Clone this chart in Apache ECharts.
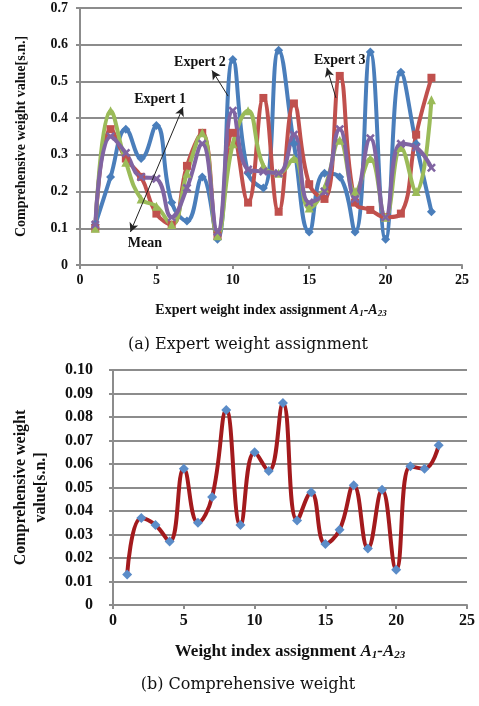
<!DOCTYPE html>
<html><head><meta charset="utf-8">
<script src="https://cdn.jsdelivr.net/npm/echarts@6/dist/echarts.min.js"></script>
<style>html,body{margin:0;padding:0;background:#fff}#c{width:479px;height:706px}</style>
</head><body><div id="c"></div>
<script>
var indexA = [1,2,3,4,5,6,7,8,9,10,11,12,13,14,15,16,17,18,19,20,21,22,23];
var expert2 = [0.11,0.24,0.37,0.29,0.38,0.17,0.12,0.24,0.07,0.56,0.25,0.21,0.585,0.33,0.09,0.25,0.24,0.09,0.58,0.07,0.525,0.33,0.145];
var expert3 = [0.10,0.37,0.29,0.24,0.14,0.11,0.27,0.36,0.08,0.36,0.17,0.455,0.145,0.44,0.22,0.18,0.515,0.17,0.15,0.13,0.14,0.355,0.51];
var expert1 = [0.10,0.42,0.28,0.18,0.16,0.11,0.25,0.36,0.08,0.33,0.42,0.27,0.25,0.29,0.155,0.21,0.34,0.20,0.29,0.13,0.32,0.20,0.45];
var meanW   = [0.11,0.35,0.305,0.24,0.235,0.13,0.21,0.33,0.09,0.42,0.26,0.255,0.25,0.355,0.17,0.20,0.37,0.18,0.345,0.13,0.33,0.32,0.265];
var compW   = [0.013,0.037,0.034,0.027,0.058,0.035,0.046,0.083,0.034,0.065,0.057,0.086,0.036,0.048,0.026,0.032,0.051,0.024,0.049,0.015,0.059,0.058,0.068];
var topYTicks = ['0','0.1','0.2','0.3','0.4','0.5','0.6','0.7'];
var botYTicks = ['0','0.01','0.02','0.03','0.04','0.05','0.06','0.07','0.08','0.09','0.10'];

function pairs(v){ return indexA.map(function(x,i){ return [x, v[i]]; }); }
var serif = 'Liberation Serif';
var xShape = 'path://M2,0L5,3L8,0L10,2L7,5L10,8L8,10L5,7L2,10L0,8L3,5L0,2Z';
var gridLine = {show:true, lineStyle:{color:'#8c8c8c', width:2}};
var axisLine = {show:true, lineStyle:{color:'#8c8c8c', width:2}};
var ticks = {show:true, length:4, lineStyle:{color:'#8c8c8c', width:2}};

function lineSeries(name, data, color, symbol, size){
  return {name:name, type:'line', xAxisIndex:0, yAxisIndex:0, data:pairs(data), smooth:0.45,
    symbol:symbol, symbolSize:size, showSymbol:true,
    lineStyle:{color:color, width:4}, itemStyle:{color:color}, z:2, animation:false};
}
function annot(text, x, y){
  return {coord:[x,y], symbol:'rect', symbolSize:0,
    label:{show:true, position:'inside', formatter:text, color:'#111', fontFamily:serif, fontWeight:'bold', fontSize:14}};
}
var meanSeries = lineSeries('Mean', meanW, '#8064a2', xShape, 9);
meanSeries.markLine = {silent:true, animation:false, symbolSize:[7,9],
  lineStyle:{color:'#222', width:1, type:'solid'}, label:{show:false},
  data:[
    [{coord:[6.74,0.43], symbol:'arrow'},{coord:[3.3,0.09], symbol:'arrow'}],
    [{coord:[8.64,0.53], symbol:'arrow'},{coord:[9.69,0.46], symbol:'none'}],
    [{coord:[16.16,0.537], symbol:'arrow'},{coord:[16.75,0.455], symbol:'none'}]
  ]};
meanSeries.markPoint = {silent:true, animation:false, data:[
  annot('Expert 1', 5.24, 0.45), annot('Expert 2', 7.85, 0.553), annot('Expert 3', 17.0, 0.556),
  annot('Mean', 4.25, 0.06)
]};

var option = {
  animation:false,
  backgroundColor:'#fff',
  title:[
    {text:'(a) Expert weight assignment', left:243, top:332, textAlign:'center',
     textStyle:{fontFamily:'DejaVu Serif', fontWeight:'normal', fontSize:16, color:'#111'}},
    {text:'(b) Comprehensive weight', left:243, top:672, textAlign:'center',
     textStyle:{fontFamily:'DejaVu Serif', fontWeight:'normal', fontSize:16, color:'#111'}}
  ],
  grid:[
    {left:80, top:8, width:382, height:257},
    {left:113, top:370, width:354, height:235}
  ],
  xAxis:[
    {gridIndex:0, type:'value', min:0, max:25, interval:5, axisLine:axisLine, axisTick:ticks, splitLine:{show:false},
     axisLabel:{color:'#111', fontFamily:serif, fontWeight:'bold', fontSize:14, margin:8},
     name:'{n|Expert weight index assignment }{i|A}{s|1}{i|-A}{s|23}', nameLocation:'middle', nameGap:38,
     nameTextStyle:{rich:{
       n:{fontFamily:serif, fontWeight:'bold', fontSize:14, color:'#111'},
       i:{fontFamily:serif, fontWeight:'bold', fontStyle:'italic', fontSize:14, color:'#111'},
       s:{fontFamily:serif, fontWeight:'bold', fontStyle:'italic', fontSize:9, color:'#111', padding:[6,0,0,0]}}}},
    {gridIndex:1, type:'value', min:0, max:25, interval:5, axisLine:axisLine, axisTick:ticks, splitLine:{show:false},
     axisLabel:{color:'#111', fontFamily:serif, fontWeight:'bold', fontSize:16, margin:8},
     name:'{n|Weight index assignment }{i|A}{s|1}{i|-A}{s|23}', nameLocation:'middle', nameGap:38,
     nameTextStyle:{rich:{
       n:{fontFamily:serif, fontWeight:'bold', fontSize:17, color:'#111'},
       i:{fontFamily:serif, fontWeight:'bold', fontStyle:'italic', fontSize:17, color:'#111'},
       s:{fontFamily:serif, fontWeight:'bold', fontStyle:'italic', fontSize:11, color:'#111', padding:[7,0,0,0]}}}}
  ],
  yAxis:[
    {gridIndex:0, type:'value', min:0, max:0.7, interval:0.1, axisLine:axisLine, axisTick:ticks, splitLine:gridLine,
     axisLabel:{color:'#111', fontFamily:serif, fontWeight:'bold', fontSize:14, margin:12,
       formatter:function(v){ return topYTicks[Math.round(v*10)]; }},
     name:'Comprehensive weight value[s.n.]', nameLocation:'middle', nameGap:52,
     nameTextStyle:{fontFamily:serif, fontWeight:'bold', fontSize:14, color:'#111'}},
    {gridIndex:1, type:'value', min:0, max:0.1, interval:0.01, axisLine:axisLine, axisTick:ticks, splitLine:gridLine,
     axisLabel:{color:'#111', fontFamily:serif, fontWeight:'bold', fontSize:16, margin:20,
       formatter:function(v){ return botYTicks[Math.round(v*100)]; }},
     name:'Comprehensive weight\nvalue[s.n.]', nameLocation:'middle', nameGap:62,
     nameTextStyle:{fontFamily:serif, fontWeight:'bold', fontSize:16, color:'#111', lineHeight:20}}
  ],
  series:[
    lineSeries('Expert 2', expert2, '#4a7ebb', 'diamond', 9),
    lineSeries('Expert 3', expert3, '#c0504d', 'rect', 8),
    lineSeries('Expert 1', expert1, '#9bbb59', 'triangle', 9),
    meanSeries,
    {name:'Comprehensive weight', type:'line', xAxisIndex:1, yAxisIndex:1, data:pairs(compW), smooth:0.45,
     symbol:'diamond', symbolSize:10, lineStyle:{color:'#a31a1d', width:4}, itemStyle:{color:'#5b8cc8'}, z:3}
  ]
};
var chart = echarts.init(document.getElementById('c'), null, {renderer:'canvas'});
chart.setOption(option);
</script></body></html>
